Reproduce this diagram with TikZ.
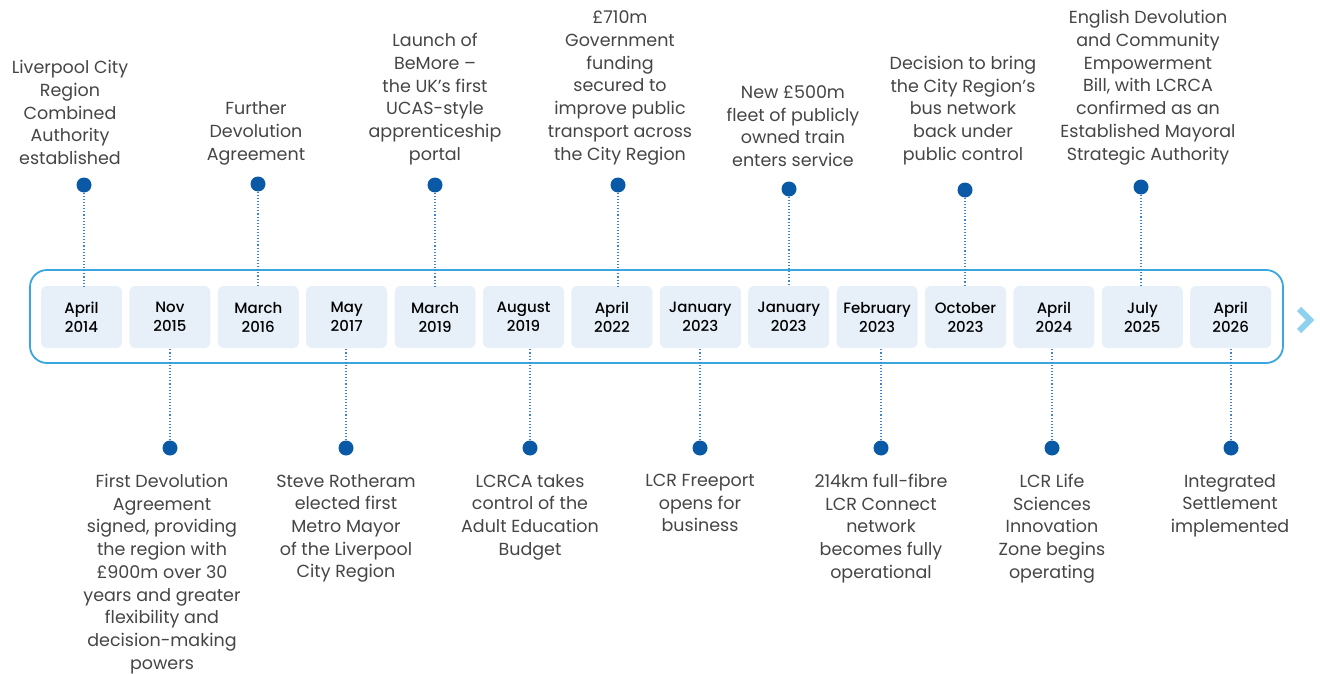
\documentclass[tikz,border=0pt]{standalone}
\usepackage{fontspec}
\setmainfont{Poppins}
\newfontfamily\datefont{Poppins Medium}
\definecolor{barblue}{HTML}{3AA6DF}
\definecolor{boxfill}{HTML}{E7F0F9}
\definecolor{dotblue}{HTML}{0A59A6}
\definecolor{linkblue}{HTML}{3C84CC}
\definecolor{chevron}{HTML}{8FD1EE}
\definecolor{textgrey}{HTML}{454545}
\begin{document}
\begin{tikzpicture}[x=1pt, y=-1pt,
    datebox/.style = {fill=boxfill, rounded corners=6pt, minimum width=81pt, minimum height=62pt,
                      align=center, font=\datefont\fontsize{15}{19}\selectfont, text=black},
    event/.style = {align=center, text=textgrey, font=\fontsize{17.5}{22.7}\selectfont, inner sep=0pt},
    dot/.style = {circle, fill=dotblue, minimum size=15pt, inner sep=0pt},
    link/.style = {linkblue, dotted, line width=1.1pt}]
    \useasboundingbox (0,0) rectangle (1320,674);
    % the bar with the dates
    \draw[barblue, line width=1.8pt, rounded corners=17pt] (30,270) rectangle (1283,363);
    \draw[chevron, line width=6pt] (1299,309) -- (1310,320) -- (1299,331);
    \node[datebox] (d1) at (81.5,317) {April\\2014};
    \node[datebox] (d2) at (169.9,317) {Nov\\2015};
    \node[datebox] (d3) at (258.3,317) {March\\2016};
    \node[datebox] (d4) at (346.7,317) {May\\2017};
    \node[datebox] (d5) at (435.1,317) {March\\2019};
    \node[datebox] (d6) at (523.5,317) {August\\2019};
    \node[datebox] (d7) at (611.9,317) {April\\2022};
    \node[datebox] (d8) at (700.3,317) {January\\2023};
    \node[datebox] (d9) at (788.7,317) {January\\2023};
    \node[datebox] (d10) at (877.1,317) {February\\2023};
    \node[datebox] (d11) at (965.5,317) {October\\2023};
    \node[datebox] (d12) at (1053.9,317) {April\\2024};
    \node[datebox] (d13) at (1142.3,317) {July\\2025};
    \node[datebox] (d14) at (1230.7,317) {April\\2026};
    % events above the bar
    \node[dot] (p1) at (84,185) {};
    \node[dot] (p3) at (258,184) {};
    \node[dot] (p5) at (435,185) {};
    \node[dot] (p7) at (618,185) {};
    \node[dot] (p9) at (789,189) {};
    \node[dot] (p11) at (965,190) {};
    \node[dot] (p13) at (1141,187) {};
    \draw[link] (p1) -- (p1 |- d1.north);
    \draw[link] (p3) -- (p3 |- d3.north);
    \draw[link] (p5) -- (p5 |- d5.north);
    \draw[link] (p7) -- (p7 |- d7.north);
    \draw[link] (p9) -- (p9 |- d9.north);
    \draw[link] (p11) -- (p11 |- d11.north);
    \draw[link] (p13) -- (p13 |- d13.north);
    \node[event, anchor=south] (e1) at (70,165) {Liverpool City\\Region\\Combined\\Authority\\established};
    \node[event, anchor=south] (e3) at (256,165) {Further\\Devolution\\Agreement};
    \node[event, anchor=south] (e5) at (435,165) {Launch of\\BeMore –\\the UK’s first\\UCAS-style\\apprenticeship\\portal};
    \node[event, anchor=south] (e7) at (620,165) {£710m\\Government\\funding\\secured to\\improve public\\transport across\\the City Region};
    \node[event, anchor=south] (e9) at (793,167) {New £500m\\fleet of publicly\\owned train\\enters service};
    \node[event, anchor=south] (e11) at (963,165) {Decision to bring\\the City Region’s\\bus network\\back under\\public control};
    \node[event, anchor=south] (e13) at (1148,165) {English Devolution\\and Community\\Empowerment\\Bill, with LCRCA\\confirmed as an\\Established Mayoral\\Strategic Authority};
    % events below the bar
    \node[dot] (p2) at (170,448) {};
    \node[dot] (p4) at (346,448) {};
    \node[dot] (p6) at (530,448) {};
    \node[dot] (p8) at (700,448) {};
    \node[dot] (p10) at (881,448) {};
    \node[dot] (p12) at (1052,448) {};
    \node[dot] (p14) at (1231,448) {};
    \draw[link] (p2) -- (p2 |- d2.south);
    \draw[link] (p4) -- (p4 |- d4.south);
    \draw[link] (p6) -- (p6 |- d6.south);
    \draw[link] (p8) -- (p8 |- d8.south);
    \draw[link] (p10) -- (p10 |- d10.south);
    \draw[link] (p12) -- (p12 |- d12.south);
    \draw[link] (p14) -- (p14 |- d14.south);
    \node[event, anchor=north] (e2) at (162,474) {First Devolution\\Agreement\\signed, providing\\the region with\\£900m over 30\\years and greater\\flexibility and\\decision-making\\powers};
    \node[event, anchor=north] (e4) at (346,474) {Steve Rotheram\\elected first\\Metro Mayor\\of the Liverpool\\City Region};
    \node[event, anchor=north] (e6) at (530,474) {LCRCA takes\\control of the\\Adult Education\\Budget};
    \node[event, anchor=north] (e8) at (700,474) {LCR Freeport\\opens for\\business};
    \node[event, anchor=north] (e10) at (881,474) {214km full-fibre\\LCR Connect\\network\\becomes fully\\operational};
    \node[event, anchor=north] (e12) at (1052,474) {LCR Life\\Sciences\\Innovation\\Zone begins\\operating};
    \node[event, anchor=north] (e14) at (1230,474) {Integrated\\Settlement\\implemented};
\end{tikzpicture}
\end{document}
